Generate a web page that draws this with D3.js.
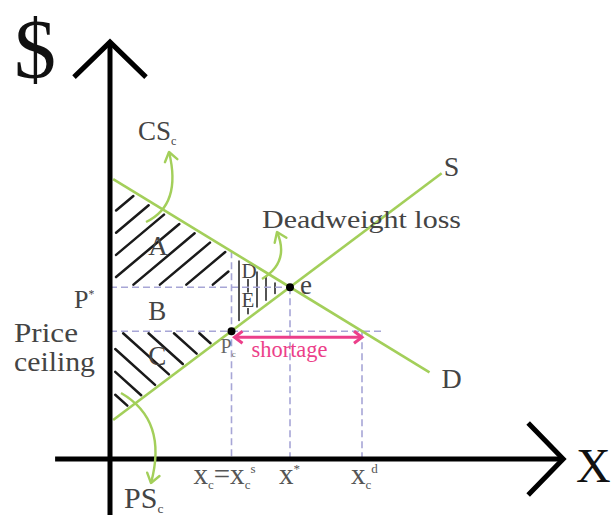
<!DOCTYPE html>
<html>
<head>
<meta charset="utf-8">
<script src="https://cdn.jsdelivr.net/npm/d3@7"></script>
<style>
  html, body { margin: 0; padding: 0; background: #fff; }
  svg { display: block; }
</style>
</head>
<body>
<svg id="chart" width="611" height="515" font-family="'Liberation Serif', 'DejaVu Serif', serif"></svg>
<script>
// Supply and demand under a binding price ceiling (model units: quantity q, price p)
const supplyLine = [{ q: 0.07, p: 0.93 }, { q: 7.37, p: 6.82 }];
const demandLine = [{ q: 0.07, p: 6.68 }, { q: 7.1, p: 2.07 }];
const equilibrium = { q: 4.0, p: 4.1 };
const ceilingPrice = 3.05;
const qSupplied = 2.7;   // quantity traded at the ceiling
const qDemanded = 5.6;   // quantity demanded at the ceiling
const ceilingLineEnd = 6.1;
const axisSpan = { qMin: -1.22, qMax: 10.07, pMin: -1.35, pMax: 9.95 };
const qTickLabels = [
  { q: qSupplied, parts: [["x", 0], ["c", 1], ["=x", 0], ["c", 1], ["s", 2]] },
  { q: equilibrium.q, parts: [["x", 0], ["*", 2]] },
  { q: qDemanded, parts: [["x", 0], ["c", 1], ["d", 2]] }
];
const regionLetters = ["A", "B", "C", "D", "E"];

const svg = d3.select("#chart");
const x = d3.scaleLinear().domain([0, 10]).range([110, 560]);
const y = d3.scaleLinear().domain([0, 10]).range([459, 40]);

const lerp = (line) => (q) => {
  const [a, b] = line;
  return a.p + (b.p - a.p) * (q - a.q) / (b.q - a.q);
};
const S = lerp(supplyLine);
const D = lerp(demandLine);

const GREEN = "#a3cf5a";
const DASH = "#a7a6d6";
const PINK = "#ec3f8a";
const INK = "#444";

// ---------- hatching helper (convex polygon, pixel space) ----------
function hatch(g, poly, angleDeg, spacing, phase, inset, width) {
  const a = angleDeg * Math.PI / 180;
  const u = [Math.cos(a), Math.sin(a)];
  const n = [-Math.sin(a), Math.cos(a)];
  const dot = (p, v) => p[0] * v[0] + p[1] * v[1];
  const proj = poly.map(p => dot(p, n));
  const lo = d3.min(proj), hi = d3.max(proj);
  for (let c = lo + phase; c < hi; c += spacing) {
    const ts = [];
    for (let i = 0; i < poly.length; i++) {
      const A = poly[i], B = poly[(i + 1) % poly.length];
      const da = dot(A, n) - c, db = dot(B, n) - c;
      if ((da <= 0 && db >= 0) || (da >= 0 && db <= 0)) {
        if (da === db) continue;
        const t = da / (da - db);
        const P = [A[0] + (B[0] - A[0]) * t, A[1] + (B[1] - A[1]) * t];
        ts.push(dot(P, u));
      }
    }
    if (ts.length < 2) continue;
    const t0 = d3.min(ts) + inset, t1 = d3.max(ts) - inset;
    if (t1 - t0 < 3) continue;
    const base = [n[0] * c, n[1] * c];
    g.append("line")
      .attr("x1", base[0] + u[0] * t0).attr("y1", base[1] + u[1] * t0)
      .attr("x2", base[0] + u[0] * t1).attr("y2", base[1] + u[1] * t1)
      .attr("stroke", "#1a1a1a").attr("stroke-width", width)
      .attr("stroke-linecap", "round");
  }
}

const hatchG = svg.append("g");
// consumer surplus kept by buyers (A)
const polyA = [
  [x(0) + 3, y(D(0.07))], [x(qSupplied), y(D(qSupplied))],
  [x(qSupplied), y(equilibrium.p)], [x(0) + 3, y(equilibrium.p)]
];
hatch(hatchG, polyA, -40, 17, 9, 4, 2.5);
// producer surplus (C)
const polyC = [
  [x(0) + 3, y(ceilingPrice)], [x(qSupplied), y(ceilingPrice)], [x(0) + 3, y(S(0.07))]
];
hatch(hatchG, polyC, 42, 17, 6, 3, 2.5);
// deadweight triangle (D + E) with vertical strokes
const polyDW = [
  [x(qSupplied), y(D(qSupplied))], [x(equilibrium.q), y(equilibrium.p)], [x(qSupplied), y(S(qSupplied))]
];
hatch(hatchG, polyDW, 90, 9, 6, 5, 1.5);

// ---------- dashed guide lines ----------
const guides = svg.append("g").attr("stroke", DASH).attr("stroke-width", 1.6)
  .attr("stroke-dasharray", "7,4").attr("fill", "none");
guides.append("line").attr("x1", x(0)).attr("x2", x(equilibrium.q))
  .attr("y1", y(equilibrium.p)).attr("y2", y(equilibrium.p));
guides.append("line").attr("x1", x(0)).attr("x2", x(ceilingLineEnd))
  .attr("y1", y(ceilingPrice)).attr("y2", y(ceilingPrice));
guides.append("line").attr("x1", x(qSupplied)).attr("x2", x(qSupplied))
  .attr("y1", y(D(qSupplied))).attr("y2", y(0));
guides.append("line").attr("x1", x(equilibrium.q)).attr("x2", x(equilibrium.q))
  .attr("y1", y(equilibrium.p)).attr("y2", y(0));
guides.append("line").attr("x1", x(qDemanded)).attr("x2", x(qDemanded))
  .attr("y1", y(ceilingPrice)).attr("y2", y(0));

// labels D and E sit on white patches inside the deadweight triangle
const letterG = svg.append("g");
function letter(txt, px, py, size, bg) {
  if (bg) {
    letterG.append("rect").attr("x", px - 1).attr("y", py - size * 0.7)
      .attr("width", size * 0.72).attr("height", size * 0.74).attr("fill", "#fff");
  }
  letterG.append("text").attr("x", px).attr("y", py).attr("font-size", size)
    .attr("fill", INK).text(txt);
}
letter(regionLetters[0], x(0.85), y(D(0.85)) + 54, 27, false);
letter(regionLetters[1], x(0.85), y(equilibrium.p) + 33, 27, false);
letter(regionLetters[2], x(0.85), y(ceilingPrice) + 34, 27, false);
letter(regionLetters[3], x(qSupplied) + 10, y(equilibrium.p) - 9, 21, true);
letter(regionLetters[4], x(qSupplied) + 10, y(equilibrium.p) + 20, 21, true);

// ---------- supply & demand ----------
const lineGen = d3.line().x(d => x(d.q)).y(d => y(d.p));
svg.append("path").datum(supplyLine).attr("d", lineGen)
  .attr("stroke", GREEN).attr("stroke-width", 2.6).attr("fill", "none");
svg.append("path").datum(demandLine).attr("d", lineGen)
  .attr("stroke", GREEN).attr("stroke-width", 2.6).attr("fill", "none");

// ---------- axes ----------
const axisG = svg.append("g").attr("stroke", "#000").attr("stroke-width", 5)
  .attr("fill", "none").attr("stroke-linecap", "butt");
axisG.append("line").attr("x1", x(0)).attr("x2", x(0))
  .attr("y1", y(axisSpan.pMin)).attr("y2", y(axisSpan.pMax));
axisG.append("line").attr("x1", x(axisSpan.qMin)).attr("x2", x(axisSpan.qMax))
  .attr("y1", y(0)).attr("y2", y(0));
axisG.append("path").attr("stroke-linejoin", "miter")
  .attr("d", `M${x(0) - 36},${y(axisSpan.pMax) + 35} L${x(0)},${y(axisSpan.pMax)} L${x(0) + 36},${y(axisSpan.pMax) + 35}`);
axisG.append("path").attr("stroke-linejoin", "miter")
  .attr("d", `M${x(axisSpan.qMax) - 35},${y(0) - 36} L${x(axisSpan.qMax)},${y(0)} L${x(axisSpan.qMax) - 35},${y(0) + 36}`);

// ---------- green pointer arrows ----------
function curvedArrow(p0, c, p1) {
  svg.append("path").attr("d", `M${p0[0]},${p0[1]} Q${c[0]},${c[1]} ${p1[0]},${p1[1]}`)
    .attr("stroke", GREEN).attr("stroke-width", 2.4).attr("fill", "none");
  const ang = Math.atan2(p1[1] - c[1], p1[0] - c[0]);
  const L = 11, spread = 0.62;
  const a1 = [p1[0] - L * Math.cos(ang - spread), p1[1] - L * Math.sin(ang - spread)];
  const a2 = [p1[0] - L * Math.cos(ang + spread), p1[1] - L * Math.sin(ang + spread)];
  svg.append("path").attr("d", `M${a1[0]},${a1[1]} L${p1[0]},${p1[1]} L${a2[0]},${a2[1]}`)
    .attr("stroke", GREEN).attr("stroke-width", 2.4).attr("fill", "none")
    .attr("stroke-linejoin", "round").attr("stroke-linecap", "round");
}
curvedArrow([146, 222], [182, 205], [169, 152]);
curvedArrow([262, 279], [290, 262], [277, 232]);
curvedArrow([121, 393], [168, 420], [151, 483]);

// ---------- shortage arrow ----------
const shY = y(ceilingPrice) + 6;
svg.append("line").attr("x1", x(qSupplied) + 4).attr("x2", x(qDemanded) - 1)
  .attr("y1", shY).attr("y2", shY).attr("stroke", PINK).attr("stroke-width", 3);
svg.append("path")
  .attr("d", `M${x(qSupplied) + 11},${shY - 6} L${x(qSupplied) + 3},${shY} L${x(qSupplied) + 11},${shY + 6}` +
             `M${x(qDemanded) - 8},${shY - 6} L${x(qDemanded)},${shY} L${x(qDemanded) - 8},${shY + 6}`)
  .attr("stroke", PINK).attr("stroke-width", 3).attr("fill", "none");
svg.append("text").attr("x", x(qSupplied) + 20).attr("y", shY + 20)
  .attr("font-size", 23).attr("fill", PINK).attr("textLength", 76)
  .attr("lengthAdjust", "spacingAndGlyphs").text("shortage");

// ---------- points ----------
svg.append("circle").attr("cx", x(equilibrium.q)).attr("cy", y(equilibrium.p)).attr("r", 4).attr("fill", "#000");
svg.append("circle").attr("cx", x(qSupplied)).attr("cy", y(ceilingPrice)).attr("r", 4).attr("fill", "#000");

// ---------- text ----------
function rich(px, py, size, parts, fill) {
  const t = svg.append("text").attr("x", px).attr("y", py).attr("font-size", size).attr("fill", fill || INK);
  let shift = 0;
  parts.forEach(([s, kind]) => {
    const target = kind === 1 ? size * 0.18 : kind === 2 ? -size * 0.38 : 0;
    t.append("tspan").attr("dy", target - shift)
      .attr("font-size", kind ? size * 0.45 : size).text(s);
    shift = target;
  });
  return t;
}
svg.append("text").attr("x", 14).attr("y", 78).attr("font-size", 84).attr("fill", "#111").text("$");
svg.append("text").attr("x", 576).attr("y", 482).attr("font-size", 48).attr("fill", "#111").text("X");
rich(138, 140, 27, [["CS", 0], ["c", 1]]);
rich(124, 508, 30, [["PS", 0], ["c", 1]]);
svg.append("text").attr("x", x(supplyLine[1].q) + 2).attr("y", y(supplyLine[1].p) + 3)
  .attr("font-size", 28).attr("fill", INK).text("S");
svg.append("text").attr("x", x(demandLine[1].q) + 12).attr("y", y(demandLine[1].p) + 16)
  .attr("font-size", 28).attr("fill", INK).text("D");
svg.append("text").attr("x", 262).attr("y", 228).attr("font-size", 26).attr("fill", INK)
  .attr("textLength", 199).attr("lengthAdjust", "spacingAndGlyphs").text("Deadweight loss");
svg.append("text").attr("x", x(equilibrium.q) + 10).attr("y", y(equilibrium.p) + 7)
  .attr("font-size", 27).attr("fill", INK).text("e");
rich(74, y(equilibrium.p) + 21, 26, [["P", 0], ["*", 2]]);
svg.append("text").attr("x", 14).attr("y", 342).attr("font-size", 27).attr("fill", INK)
  .attr("textLength", 64).attr("lengthAdjust", "spacingAndGlyphs").text("Price");
svg.append("text").attr("x", 14).attr("y", 371).attr("font-size", 27).attr("fill", INK)
  .attr("textLength", 81).attr("lengthAdjust", "spacingAndGlyphs").text("ceiling");
rich(x(qSupplied) - 11, y(ceilingPrice) + 22, 20, [["P", 0], ["c", 1]], "#666");

// quantity labels under the axis
qTickLabels.forEach(d => {
  const t = rich(0, 484, 29, d.parts, "#555");
  const w = t.node().getComputedTextLength();
  t.attr("x", x(d.q) - (d.q === qSupplied ? w - 24 : 11));
});
</script>
</body>
</html>
